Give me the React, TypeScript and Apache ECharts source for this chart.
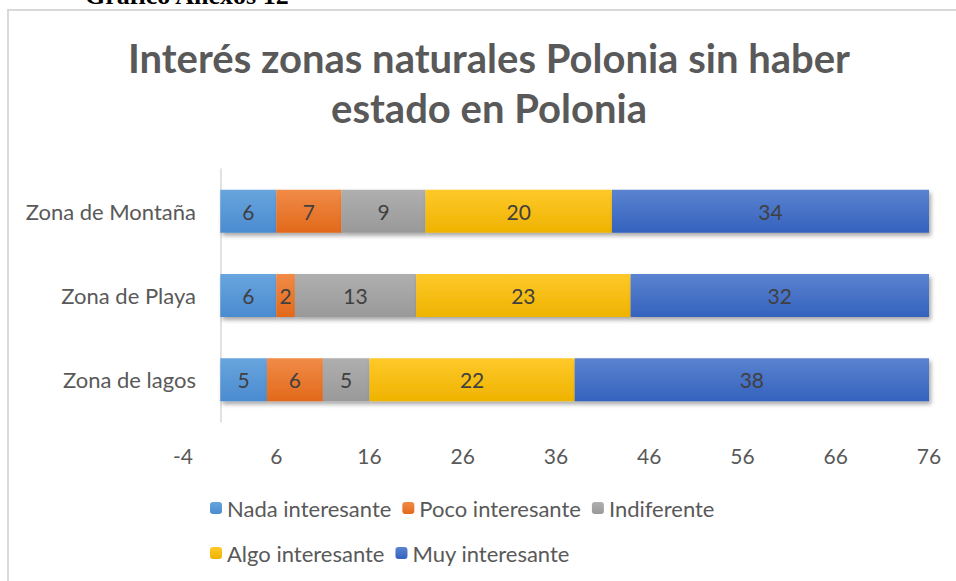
import React, { useEffect, useRef } from "react";
import * as echarts from "echarts";

const categories = ["Zona de Montaña", "Zona de Playa", "Zona de lagos"];
const seriesNames = ["Nada interesante", "Poco interesante", "Indiferente", "Algo interesante", "Muy interesante"];
const nada = [6, 6, 5];
const poco = [7, 2, 6];
const indiferente = [9, 13, 5];
const algo = [20, 23, 22];
const muy = [34, 32, 38];
const xTicks = { min: -4, max: 76, interval: 10 };

const gradients: [string, string][] = [
  ["#68a5de", "#4b8bd0"],
  ["#f18b47", "#e2691b"],
  ["#afafaf", "#999999"],
  ["#ffc92a", "#eeb300"],
  ["#5b83d0", "#3462bd"],
];

const FONT = "Lato, 'Noto Sans', sans-serif";

export default function App() {
  const ref = useRef<HTMLDivElement>(null);
  useEffect(() => {
    if (!ref.current) return;
    const chart = echarts.init(ref.current, null, { renderer: "svg" });
    const values = [nada, poco, indiferente, algo, muy];
    const series = seriesNames.map((name, i) => ({
      name,
      type: "bar",
      stack: "total",
      barWidth: 43,
      data: values[i],
      itemStyle: {
        color: new echarts.graphic.LinearGradient(0, 0, 0, 1, [
          { offset: 0, color: gradients[i][0] },
          { offset: 1, color: gradients[i][1] },
        ]),
        shadowColor: "rgba(0,0,0,0.35)",
        shadowBlur: 4,
        shadowOffsetX: 2,
        shadowOffsetY: 3,
      },
      label: {
        show: true,
        position: "inside",
        color: "#404040",
        fontSize: 21,
        fontFamily: FONT,
      },
    }));
    chart.setOption({
      animation: false,
      backgroundColor: "#ffffff",
      title: {
        text: "Interés zonas naturales Polonia sin haber\nestado en Polonia",
        left: 489,
        textAlign: "center",
        top: 33,
        padding: 0,
        textStyle: {
          fontFamily: FONT,
          fontSize: 40,
          lineHeight: 50,
          fontWeight: "bold",
          color: "#595959",
        },
      },
      graphic: [
        {
          type: "rect",
          shape: { x: 8, y: 10, width: 1000, height: 700 },
          style: { fill: "none", stroke: "#d9d9d9", lineWidth: 2 },
          silent: true,
          z: -1,
        },
        {
          type: "text",
          x: 85,
          y: -5,
          style: {
            text: "Gráfico Anexos 12",
            font: "bold 26px 'Liberation Serif', 'Times New Roman', serif",
            fill: "#000000",
            verticalAlign: "middle",
          },
        },
      ],
      legend: [
        {
          data: seriesNames.slice(0, 3),
          left: 205,
          top: 492,
          itemWidth: 12,
          itemHeight: 12,
          itemGap: 11,
          textStyle: { fontFamily: FONT, fontSize: 22, color: "#595959" },
        },
        {
          data: seriesNames.slice(3),
          left: 205,
          top: 537,
          itemWidth: 12,
          itemHeight: 12,
          itemGap: 11,
          textStyle: { fontFamily: FONT, fontSize: 22, color: "#595959" },
        },
      ],
      grid: { left: 183, right: 27, top: 169, bottom: 159, containLabel: false },
      xAxis: {
        type: "value",
        min: xTicks.min,
        max: xTicks.max,
        interval: xTicks.interval,
        axisLine: { show: false },
        axisTick: { show: false },
        splitLine: { show: false },
        axisLabel: { fontFamily: FONT, fontSize: 21, color: "#595959", margin: 23 },
      },
      yAxis: {
        type: "category",
        data: categories,
        inverse: true,
        axisLine: { show: true, onZero: true, lineStyle: { color: "#d9d9d9", width: 1.5 } },
        axisTick: { show: false },
        axisLabel: { fontFamily: FONT, fontSize: 22, color: "#595959", margin: -13 },
      },
      series,
    });
    return () => chart.dispose();
  }, []);
  return (
    <div
      ref={ref}
      style={{ position: "absolute", left: 0, top: 0, width: 956, height: 581 }}
    />
  );
}
